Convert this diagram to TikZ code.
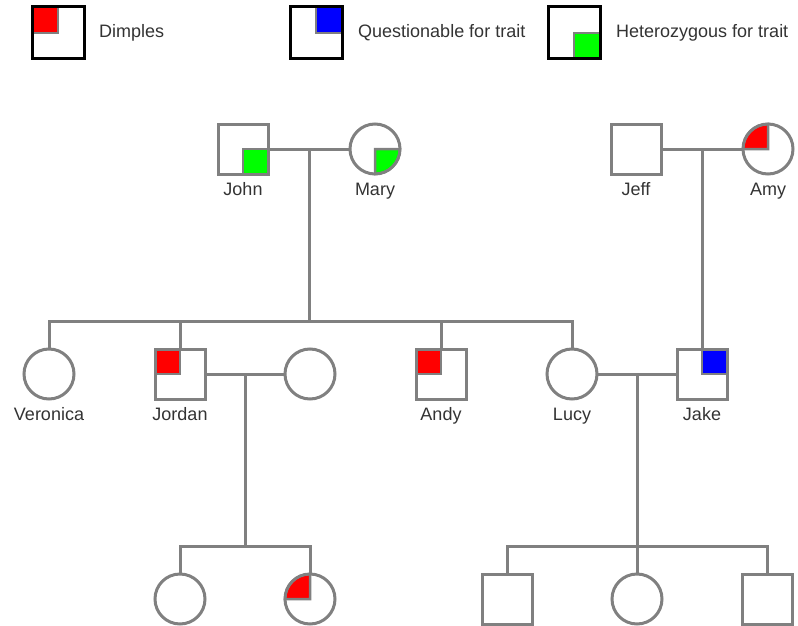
\documentclass[tikz,border=0pt]{standalone}
\usepackage{fontspec}
\setmainfont{Liberation Sans}
\usepackage{tikz}
\usetikzlibrary{positioning,backgrounds}

\definecolor{pedgray}{HTML}{808080}
\definecolor{txtgray}{HTML}{333333}

\tikzset{
  person/.style={draw=pedgray, line width=3pt, outer sep=0pt, inner sep=0pt, minimum size=50pt},
  male/.style={person, rectangle},
  female/.style={person, circle},
  keybox/.style={rectangle, draw=black, line width=3pt, outer sep=0pt, minimum size=52pt},
  keytext/.style={text=txtgray, inner sep=2pt, text height=14pt, text depth=4pt},
  line/.style={draw=pedgray, line width=3pt},
  quad/.style={draw=pedgray, line width=2.5pt}
}

\begin{document}
\begin{tikzpicture}[x=1pt, y=-1pt, font=\fontsize{18}{21}\selectfont, label distance=7.5pt,
    every label/.style={text=txtgray, inner sep=0pt, text height=14pt, text depth=4pt}]
    \useasboundingbox (0,0) rectangle (798,626);

    % Legend
    \node (keyd) [keybox] at (58,33) {};
    \node (keydtext) [keytext, right=13pt of keyd] {Dimples};
    \node (keyq) [keybox] at (316,33) {};
    \node (keyqtext) [keytext, right=14pt of keyq] {Questionable for trait};
    \node (keyh) [keybox] at (574,33) {};
    \node (keyhtext) [keytext, right=14pt of keyh] {Heterozygous for trait};

    % Generation I
    \node (john) [male, label=below:John] at (243,149) {};
    \node (mary) [female, label=below:Mary] at (375,149) {};
    \node (jeff) [male, label=below:Jeff] at (636,149) {};
    \node (amy) [female, label=below:Amy] at (768,149) {};

    % Generation II
    \node (veronica) [female, label=below:Veronica] at (49,374) {};
    \node (jordan) [male, label=below:Jordan] at (180,374) {};
    \node (jwife) [female] at (310,374) {};
    \node (andy) [male, label=below:Andy] at (441,374) {};
    \node (lucy) [female, label=below:Lucy] at (572,374) {};
    \node (jake) [male, label=below:Jake] at (702,374) {};

    % Generation III
    \node (girl1) [female] at (180,599) {};
    \node (girl2) [female] at (310,599) {};
    \node (boy1) [male] at (507,599) {};
    \node (girl3) [female] at (637,599) {};
    \node (boy2) [male] at (767,599) {};

    % Marriages and descent
    \draw[line] (john) -- coordinate[midway] (jm) (mary);
    \draw[line] (jm) -- ++(0,172) coordinate (sib1);
    \draw[line] (veronica.north) |- (sib1) -| (lucy.north);
    \draw[line] (sib1 -| jordan.north) -- (jordan.north);
    \draw[line] (sib1 -| andy.north) -- (andy.north);

    \draw[line] (jeff) -- coordinate[midway] (ja) (amy);
    \draw[line] (ja) -- (ja |- jake.north);

    \draw[line] (jordan) -- coordinate[midway] (jw) (jwife);
    \draw[line] (jw) -- ++(0,172) coordinate (sib2);
    \draw[line] (girl1.north) |- (sib2) -| (girl2.north);

    \draw[line] (lucy) -- coordinate[midway] (lj) (jake);
    \draw[line] (lj) -- ++(0,172) coordinate (sib3);
    \draw[line] (boy1.north) |- (sib3) -| (boy2.north);
    \draw[line] (sib3) -- (girl3.north);

    % Trait quadrants
    \begin{scope}[on background layer]
        \filldraw[quad, fill=red] (keyd.north west) rectangle (keyd.center);
        \filldraw[quad, fill=blue] (keyq.north east) rectangle (keyq.center);
        \filldraw[quad, fill=green] (keyh.south east) rectangle (keyh.center);
        \filldraw[quad, fill=green] (john.south east) rectangle (john.center);
        \filldraw[quad, fill=green] (mary.center) -- (mary.east) arc[start angle=0, end angle=-90, radius=25pt] -- cycle;
        \filldraw[quad, fill=red] (amy.center) -- (amy.north) arc[start angle=90, end angle=180, radius=25pt] -- cycle;
        \filldraw[quad, fill=red] (jordan.north west) rectangle (jordan.center);
        \filldraw[quad, fill=red] (andy.north west) rectangle (andy.center);
        \filldraw[quad, fill=blue] (jake.north east) rectangle (jake.center);
        \filldraw[quad, fill=red] (girl2.center) -- (girl2.north) arc[start angle=90, end angle=180, radius=25pt] -- cycle;
    \end{scope}
\end{tikzpicture}
\end{document}
